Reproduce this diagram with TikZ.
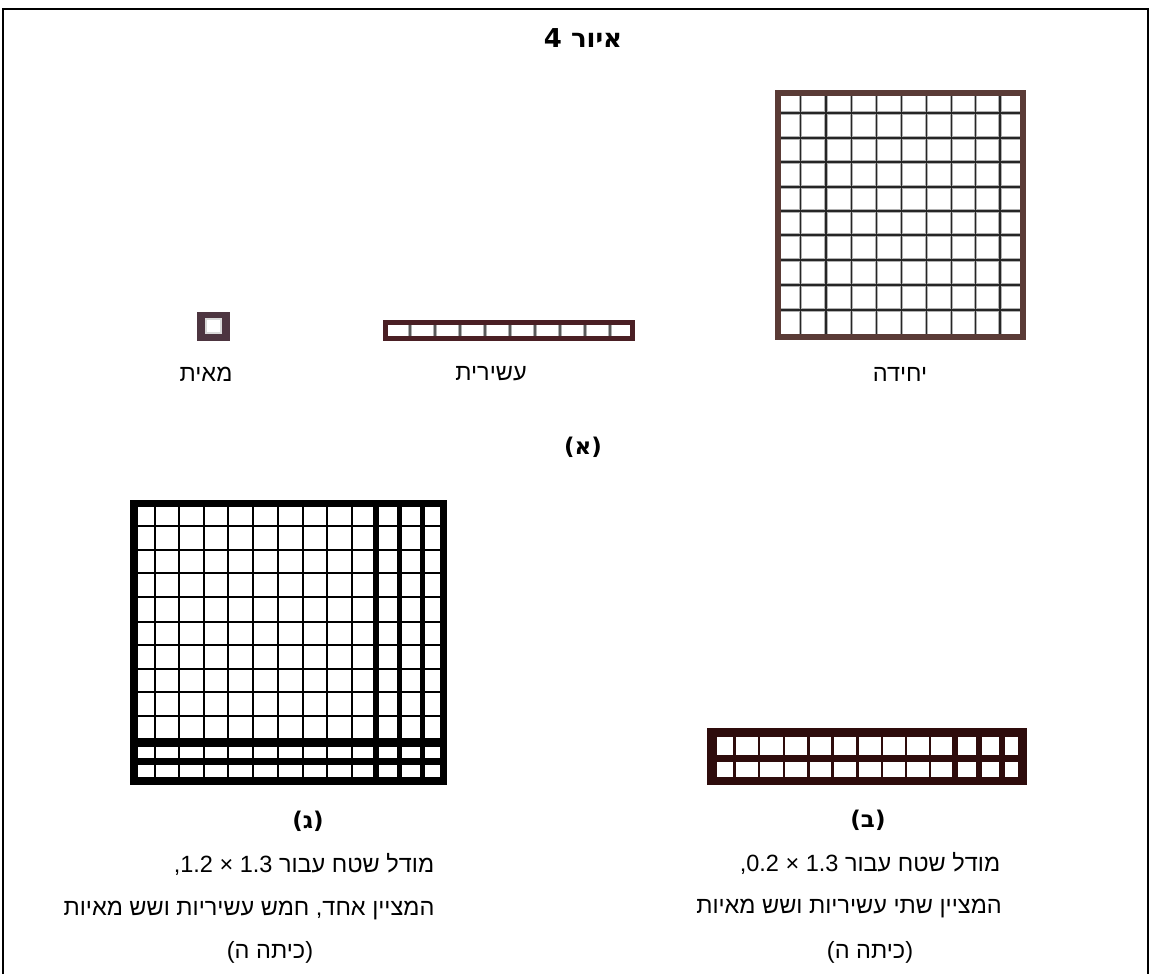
\documentclass[tikz,border=0pt]{standalone}
\usepackage{fontspec}
\TeXXeTstate=1
\newfontfamily\heb[Script=Hebrew]{Liberation Sans}
\newfontfamily\hebb[Script=Hebrew]{DejaVu Sans}
\definecolor{ubrown}{HTML}{5A3B36}
\definecolor{tmaroon}{HTML}{4A1F24}
\definecolor{hmauve}{HTML}{4D3540}
\definecolor{bmaroon}{HTML}{2E0C0C}
\definecolor{halo}{HTML}{B0B0B0}
\begin{document}
\begin{tikzpicture}[x=1pt,y=-1pt,
  frameline/.style={line width=2pt,black},
  lbl/.style={font=\heb\fontsize{23.5}{27}\selectfont,inner sep=0pt},
  blbl/.style={font=\hebb\bfseries\fontsize{23}{27}\selectfont,inner sep=0pt},
  tlbl/.style={font=\hebb\bfseries\fontsize{26}{30}\selectfont,inner sep=0pt},
  gridhalo/.style={line width=3.4pt,halo},
  gridcore/.style={line width=1.2pt,black!85}]
\useasboundingbox (0,0) rectangle (1150,974);
% outer frame (open at the bottom)
\draw[frameline] (2.5,974) -- (2.5,9) -- (1147.5,9) -- (1147.5,974);
% title
\node[tlbl] (title) at (583,38) {\beginR איור 4\endR};
% ---- unit square ----
\fill[white] (778,93) rectangle (1022.5,336.5);
\foreach \x in {800.5,826,851.5,876.5,901.5,926.5,951.5,975.5,1000}
  {\draw[gridhalo] (\x,93) -- (\x,336.5);}
\foreach \y in {113,138,162,187,211,235,260,285,310}
  {\draw[gridhalo] (778,\y) -- (1022.5,\y);}
\foreach \x in {800.5,826,851.5,876.5,901.5,926.5,951.5,975.5,1000}
  {\draw[gridcore] (\x,93) -- (\x,336.5);}
\foreach \y in {113,138,162,187,211,235,260,285,310}
  {\draw[gridcore] (778,\y) -- (1022.5,\y);}
\draw[line width=6pt,ubrown] (778,93) rectangle (1022.5,336.5);
% ---- tenth strip ----
\foreach \x in {410,435,460,485,510,535,560,585,610}
  {\draw[gridhalo] (\x,322) -- (\x,339);
   \draw[line width=1.2pt,black!65] (\x,322) -- (\x,339);}
\draw[line width=5pt,tmaroon] (385.5,322.5) rectangle (632.5,338.5);
% ---- hundredth ----
\fill[hmauve] (197,312) rectangle (230,341);
\fill[black!15] (205,318) rectangle (222,334);
\fill[white] (207,320) rectangle (220,332);
% labels (a)
\node[lbl] (unitlbl) at (900,374) {\beginR יחידה\endR};
\node[lbl] (tenthlbl) at (491,374) {\beginR עשירית\endR};
\node[lbl] (hundlbl) at (206,374) {\beginR מאית\endR};
\node[blbl] (capA) at (583,447) {\beginR(א)\endR};
% ---- (b) strip ----
\fill[bmaroon] (707,728) rectangle (1027,785);
\foreach \a/\b in {717/733.4,736/757.7,760.3/782.7,785.3/807.4,810/831.4,834/856.4,859/880.7,883.3/904.7,907.3/928.7,931.3/952,958/976,982/999,1005/1018}
  {\fill[white] (\a,737) rectangle (\b,755);
   \fill[white] (\a,762) rectangle (\b,777);}
% ---- (c) grid ----
\fill[black] (130,500) rectangle (447,785);
\foreach \a/\b in {138/154,156/178,180/203,205/227,229/252,254/277,279/302,304/326,328/351,353/373,379/397,402/420,425/440}
  {\foreach \c/\d in {507/525,527/549,551/572,574/596,598/621,623/644,646/668,670/691,693/715,717/738,747/758,765/777}
    {\fill[white] (\a,\c) rectangle (\b,\d);}}
% captions
\node[blbl] (capB) at (868,820) {\beginR(ב)\endR};
\node[blbl] (capC) at (308,821) {\beginR(ג)\endR};
\node[lbl] (b1) at (870,863) {\beginR מודל שטח עבור \beginL1.3\endL{} × \beginL0.2\endL{},\endR};
\node[lbl] (b2) at (849,909) {\beginR המציין שתי עשיריות ושש מאיות\endR};
\node[lbl] (b3) at (870,952) {\beginR(כיתה ה)\endR};
\node[lbl] (c1) at (304,864) {\beginR מודל שטח עבור \beginL1.3\endL{} × \beginL1.2\endL{},\endR};
\node[lbl] (c2) at (249,911) {\beginR המציין אחד, חמש עשיריות ושש מאיות\endR};
\node[lbl] (c3) at (270,952) {\beginR(כיתה ה)\endR};
\end{tikzpicture}
\end{document}
